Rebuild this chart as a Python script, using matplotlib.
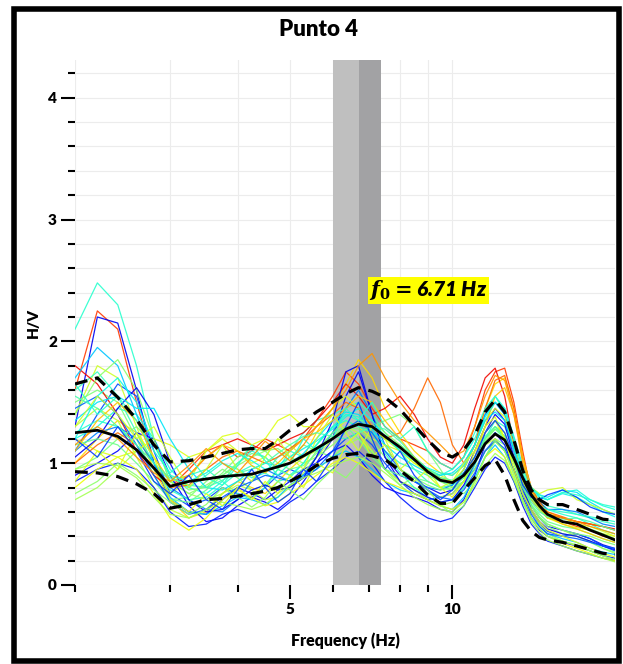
import matplotlib
matplotlib.use("Agg")
import matplotlib.pyplot as plt
import numpy as np
from matplotlib.patches import Rectangle
from matplotlib.ticker import NullFormatter

plt.rcParams['font.family'] = ['Lato', 'DejaVu Sans']
plt.rcParams['font.weight'] = 'heavy'
plt.rcParams['mathtext.fontset'] = 'custom'
plt.rcParams['mathtext.it'] = 'DejaVu Serif:italic:bold'
plt.rcParams['mathtext.rm'] = 'DejaVu Serif:bold'

freqs = [2.0, 2.2, 2.4, 2.6, 2.8, 3.0, 3.25, 3.5, 3.75, 4.0, 4.25, 4.5, 4.75,
         5.0, 5.3, 5.6, 6.0, 6.35, 6.7, 7.1, 7.5, 8.0, 8.5, 9.0, 9.5, 10.0,
         10.5, 11.0, 11.5, 12.0, 12.5, 13.0, 13.5, 14.0, 14.5, 15.0, 16.0,
         17.0, 18.0, 19.0, 20.0]

# average H/V and +/- one std
mean_hv = [1.25, 1.27, 1.22, 1.11, 0.96, 0.81, 0.85, 0.87, 0.89, 0.90, 0.91, 0.94, 0.97,
           1.00, 1.06, 1.12, 1.20, 1.28, 1.32, 1.30, 1.22, 1.13, 1.03, 0.93, 0.86, 0.84,
           0.90, 1.01, 1.16, 1.24, 1.19, 1.04, 0.88, 0.74, 0.65, 0.58, 0.52, 0.50, 0.45,
           0.41, 0.37]
upper_hv = [1.65, 1.70, 1.54, 1.36, 1.15, 1.01, 1.02, 1.05, 1.08, 1.11, 1.12, 1.12, 1.19,
            1.27, 1.34, 1.42, 1.50, 1.57, 1.62, 1.59, 1.54, 1.44, 1.31, 1.19, 1.09, 1.05,
            1.11, 1.23, 1.42, 1.52, 1.42, 1.19, 0.94, 0.78, 0.70, 0.66, 0.66, 0.62, 0.58,
            0.54, 0.53]
lower_hv = [0.93, 0.92, 0.89, 0.83, 0.75, 0.63, 0.66, 0.70, 0.71, 0.73, 0.75, 0.77, 0.80,
            0.85, 0.91, 0.98, 1.04, 1.07, 1.08, 1.06, 1.03, 0.94, 0.85, 0.74, 0.67, 0.67,
            0.78, 0.88, 0.98, 1.03, 0.90, 0.70, 0.53, 0.44, 0.39, 0.37, 0.35, 0.32, 0.29,
            0.26, 0.25]

# individual time windows
windows = [
    [2.10, 2.48, 2.30, 1.80, 1.20, 0.85, 0.80, 0.90, 1.00, 0.95, 0.88, 0.92, 1.05, 1.10, 1.05, 1.15, 1.30, 1.40, 1.35, 1.25, 1.10, 1.00, 0.95, 0.90, 0.85, 0.82, 0.88, 1.00, 1.15, 1.25, 1.20, 1.05, 0.88, 0.75, 0.68, 0.62, 0.58, 0.55, 0.50, 0.45, 0.42],
    [1.60, 2.25, 2.10, 1.50, 1.00, 0.80, 0.95, 1.10, 1.15, 1.05, 1.10, 1.20, 1.15, 1.10, 1.20, 1.35, 1.55, 1.75, 1.65, 1.45, 1.30, 1.20, 1.15, 1.10, 1.00, 0.95, 1.05, 1.30, 1.60, 1.75, 1.78, 1.50, 1.10, 0.75, 0.62, 0.55, 0.52, 0.48, 0.45, 0.40, 0.38],
    [1.30, 2.20, 2.15, 1.60, 1.00, 0.70, 0.60, 0.58, 0.70, 0.80, 0.75, 0.70, 0.78, 0.85, 0.95, 1.00, 1.20, 1.55, 1.75, 1.40, 1.05, 0.90, 0.85, 0.80, 0.75, 0.78, 0.90, 1.10, 1.30, 1.45, 1.35, 1.10, 0.85, 0.65, 0.55, 0.48, 0.45, 0.42, 0.38, 0.33, 0.30],
    [1.10, 1.40, 1.65, 1.55, 1.10, 0.75, 0.65, 0.70, 0.80, 0.75, 0.72, 0.80, 0.90, 0.95, 0.90, 1.00, 1.10, 1.20, 1.25, 1.15, 1.00, 0.85, 0.75, 0.70, 0.72, 0.75, 0.85, 0.95, 1.10, 1.20, 1.10, 0.95, 0.78, 0.60, 0.50, 0.44, 0.40, 0.42, 0.38, 0.32, 0.28],
    [1.40, 1.80, 1.70, 1.30, 0.95, 0.75, 0.85, 1.10, 1.20, 1.10, 1.00, 1.05, 1.20, 1.15, 1.05, 1.10, 1.25, 1.35, 1.30, 1.20, 1.15, 1.10, 1.00, 0.95, 0.90, 0.85, 0.92, 1.05, 1.20, 1.30, 1.25, 1.05, 0.85, 0.70, 0.62, 0.58, 0.55, 0.50, 0.48, 0.44, 0.40],
    [0.70, 0.80, 0.95, 1.10, 1.05, 0.85, 0.75, 0.70, 0.75, 0.85, 0.90, 0.82, 0.78, 0.80, 0.88, 0.95, 1.05, 1.15, 1.20, 1.10, 0.95, 0.85, 0.78, 0.70, 0.65, 0.68, 0.80, 0.95, 1.10, 1.18, 1.10, 0.95, 0.80, 0.65, 0.55, 0.50, 0.45, 0.40, 0.36, 0.30, 0.26],
    [1.20, 1.30, 1.45, 1.40, 1.20, 0.95, 0.80, 0.75, 0.85, 1.00, 1.10, 1.05, 0.95, 0.90, 1.00, 1.15, 1.30, 1.35, 1.30, 1.25, 1.20, 1.15, 1.05, 0.95, 0.90, 0.95, 1.05, 1.20, 1.40, 1.55, 1.45, 1.20, 0.95, 0.80, 0.72, 0.70, 0.76, 0.78, 0.70, 0.65, 0.62],
    [1.00, 1.20, 1.35, 1.25, 0.95, 0.70, 0.55, 0.60, 0.75, 0.85, 0.80, 0.75, 0.85, 0.95, 1.05, 1.25, 1.45, 1.65, 1.85, 1.70, 1.45, 1.25, 1.10, 1.00, 0.92, 0.90, 0.98, 1.15, 1.45, 1.65, 1.70, 1.45, 1.05, 0.80, 0.68, 0.60, 0.55, 0.52, 0.50, 0.48, 0.45],
    [1.50, 1.60, 1.50, 1.20, 0.90, 0.70, 0.72, 0.85, 0.95, 0.88, 0.78, 0.82, 0.95, 1.05, 1.15, 1.10, 1.05, 1.15, 1.25, 1.30, 1.35, 1.40, 1.30, 1.10, 0.95, 0.80, 0.75, 0.85, 1.05, 1.20, 1.15, 1.00, 0.80, 0.65, 0.55, 0.48, 0.42, 0.40, 0.35, 0.30, 0.27],
    [0.90, 1.00, 1.10, 1.25, 1.20, 0.90, 0.65, 0.52, 0.55, 0.65, 0.72, 0.68, 0.62, 0.70, 0.85, 1.00, 1.10, 1.15, 1.05, 0.90, 0.80, 0.75, 0.72, 0.68, 0.62, 0.60, 0.70, 0.90, 1.15, 1.25, 1.15, 0.95, 0.72, 0.55, 0.45, 0.40, 0.35, 0.32, 0.28, 0.24, 0.22],
    [1.60, 1.75, 1.55, 1.25, 1.00, 0.85, 0.90, 0.95, 0.85, 0.75, 0.70, 0.80, 0.95, 1.10, 1.25, 1.35, 1.40, 1.45, 1.50, 1.40, 1.25, 1.10, 0.95, 0.85, 0.80, 0.82, 0.95, 1.15, 1.35, 1.50, 1.40, 1.15, 0.92, 0.78, 0.70, 0.65, 0.62, 0.58, 0.55, 0.52, 0.50],
    [1.80, 1.65, 1.40, 1.10, 0.90, 0.80, 0.90, 1.05, 1.15, 1.20, 1.15, 1.10, 1.15, 1.20, 1.25, 1.35, 1.50, 1.65, 1.55, 1.40, 1.45, 1.55, 1.40, 1.20, 1.05, 1.00, 1.15, 1.45, 1.70, 1.78, 1.55, 1.15, 0.85, 0.70, 0.62, 0.58, 0.55, 0.52, 0.50, 0.48, 0.46],
    [1.30, 1.45, 1.35, 1.05, 0.80, 0.62, 0.55, 0.62, 0.75, 0.82, 0.78, 0.70, 0.72, 0.80, 0.92, 1.05, 1.20, 1.30, 1.25, 1.10, 0.95, 0.85, 0.80, 0.75, 0.72, 0.75, 0.85, 1.00, 1.15, 1.20, 1.10, 0.92, 0.75, 0.60, 0.50, 0.42, 0.36, 0.32, 0.28, 0.24, 0.20],
    [1.10, 1.25, 1.30, 1.20, 1.00, 0.80, 0.70, 0.62, 0.60, 0.70, 0.85, 0.95, 0.90, 0.85, 0.90, 1.05, 1.25, 1.45, 1.60, 1.40, 1.15, 0.95, 0.85, 0.80, 0.78, 0.82, 0.95, 1.15, 1.40, 1.50, 1.40, 1.15, 0.90, 0.75, 0.68, 0.62, 0.62, 0.60, 0.55, 0.50, 0.48],
    [0.95, 1.05, 1.20, 1.30, 1.15, 0.90, 0.78, 0.80, 0.92, 1.05, 1.12, 1.10, 1.00, 0.95, 0.98, 1.08, 1.22, 1.30, 1.28, 1.18, 1.05, 0.95, 0.88, 0.82, 0.78, 0.80, 0.88, 1.00, 1.20, 1.30, 1.22, 1.00, 0.80, 0.65, 0.56, 0.50, 0.45, 0.42, 0.40, 0.36, 0.33],
    [1.70, 1.95, 1.80, 1.40, 1.00, 0.72, 0.60, 0.58, 0.65, 0.72, 0.70, 0.66, 0.72, 0.82, 0.90, 0.95, 1.05, 1.10, 1.05, 0.95, 0.85, 0.78, 0.75, 0.70, 0.65, 0.62, 0.72, 0.88, 1.05, 1.15, 1.05, 0.85, 0.68, 0.55, 0.48, 0.42, 0.38, 0.35, 0.30, 0.27, 0.25],
    [1.20, 1.10, 1.05, 1.10, 1.20, 1.15, 1.05, 1.10, 1.22, 1.25, 1.15, 1.20, 1.35, 1.40, 1.30, 1.30, 1.45, 1.55, 1.45, 1.30, 1.20, 1.10, 1.00, 0.92, 0.88, 0.85, 0.95, 1.15, 1.35, 1.45, 1.38, 1.15, 0.90, 0.72, 0.62, 0.55, 0.50, 0.47, 0.45, 0.42, 0.40],
    [0.85, 0.95, 1.00, 0.95, 0.80, 0.60, 0.48, 0.50, 0.58, 0.62, 0.58, 0.55, 0.60, 0.68, 0.75, 0.85, 0.95, 1.05, 1.10, 1.00, 0.85, 0.72, 0.62, 0.55, 0.52, 0.55, 0.65, 0.80, 0.95, 1.05, 1.00, 0.85, 0.65, 0.50, 0.42, 0.36, 0.32, 0.28, 0.25, 0.22, 0.20],
    [1.40, 1.70, 1.85, 1.60, 1.20, 0.85, 0.75, 0.82, 0.90, 0.98, 1.05, 1.10, 1.12, 1.05, 1.00, 1.05, 1.15, 1.25, 1.35, 1.35, 1.25, 1.15, 1.05, 0.95, 0.85, 0.80, 0.85, 1.00, 1.18, 1.28, 1.22, 1.05, 0.85, 0.70, 0.62, 0.56, 0.52, 0.50, 0.46, 0.42, 0.38],
    [1.00, 1.15, 1.25, 1.15, 0.95, 0.80, 0.82, 0.95, 1.05, 1.10, 1.05, 1.00, 1.05, 1.12, 1.20, 1.30, 1.40, 1.50, 1.45, 1.30, 1.20, 1.25, 1.45, 1.70, 1.50, 1.15, 1.00, 1.15, 1.45, 1.68, 1.72, 1.45, 1.05, 0.80, 0.68, 0.60, 0.56, 0.52, 0.50, 0.48, 0.45],
    [1.25, 1.35, 1.30, 1.15, 0.95, 0.78, 0.70, 0.72, 0.82, 0.92, 0.98, 0.92, 0.85, 0.88, 1.00, 1.15, 1.30, 1.40, 1.38, 1.25, 1.08, 0.92, 0.80, 0.72, 0.68, 0.70, 0.80, 0.98, 1.20, 1.35, 1.30, 1.10, 0.88, 0.72, 0.65, 0.62, 0.60, 0.58, 0.56, 0.54, 0.52],
    [1.05, 1.20, 1.45, 1.62, 1.40, 1.00, 0.70, 0.60, 0.62, 0.70, 0.78, 0.82, 0.78, 0.80, 0.88, 1.05, 1.35, 1.75, 1.80, 1.40, 1.05, 0.85, 0.78, 0.72, 0.68, 0.70, 0.82, 1.00, 1.25, 1.40, 1.32, 1.05, 0.80, 0.62, 0.52, 0.46, 0.42, 0.40, 0.36, 0.32, 0.29],
    [0.80, 0.95, 1.05, 0.95, 0.75, 0.55, 0.45, 0.55, 0.70, 0.78, 0.72, 0.65, 0.68, 0.75, 0.82, 0.90, 1.00, 1.05, 1.00, 0.92, 0.85, 0.80, 0.75, 0.70, 0.65, 0.62, 0.68, 0.85, 1.05, 1.12, 1.05, 0.88, 0.70, 0.55, 0.46, 0.40, 0.34, 0.30, 0.26, 0.22, 0.20],
    [1.35, 1.50, 1.55, 1.45, 1.45, 1.20, 0.95, 0.80, 0.78, 0.85, 0.95, 1.00, 0.98, 1.00, 1.08, 1.20, 1.35, 1.42, 1.40, 1.28, 1.15, 1.05, 0.98, 0.92, 0.90, 0.92, 1.00, 1.15, 1.35, 1.42, 1.35, 1.12, 0.90, 0.78, 0.74, 0.72, 0.78, 0.76, 0.68, 0.62, 0.58],
    [1.15, 1.20, 1.15, 1.00, 0.85, 0.70, 0.68, 0.78, 0.90, 1.00, 1.08, 1.05, 0.95, 0.90, 0.95, 1.10, 1.25, 1.30, 1.20, 1.05, 0.95, 0.90, 0.88, 0.85, 0.80, 0.78, 0.85, 1.00, 1.20, 1.28, 1.20, 1.00, 0.80, 0.66, 0.58, 0.52, 0.48, 0.46, 0.42, 0.38, 0.35],
    [1.45, 1.55, 1.40, 1.15, 0.90, 0.68, 0.58, 0.62, 0.72, 0.80, 0.85, 0.90, 0.88, 0.85, 0.88, 0.95, 1.10, 1.28, 1.35, 1.25, 1.10, 0.95, 0.85, 0.78, 0.72, 0.70, 0.78, 0.92, 1.10, 1.18, 1.12, 0.95, 0.75, 0.58, 0.48, 0.42, 0.40, 0.38, 0.35, 0.32, 0.30],
    [1.10, 1.35, 1.50, 1.35, 1.05, 0.85, 0.90, 1.05, 1.15, 1.10, 0.98, 0.92, 1.00, 1.10, 1.20, 1.25, 1.35, 1.45, 1.55, 1.50, 1.35, 1.20, 1.05, 0.95, 0.88, 0.85, 0.90, 1.05, 1.30, 1.55, 1.62, 1.40, 1.05, 0.78, 0.64, 0.56, 0.50, 0.46, 0.42, 0.38, 0.35],
    [1.55, 1.45, 1.30, 1.15, 1.00, 0.88, 0.82, 0.80, 0.86, 0.92, 0.95, 1.00, 1.08, 1.15, 1.22, 1.25, 1.22, 1.20, 1.25, 1.30, 1.28, 1.18, 1.05, 0.95, 0.88, 0.86, 0.92, 1.05, 1.22, 1.30, 1.22, 1.02, 0.82, 0.68, 0.60, 0.56, 0.54, 0.55, 0.52, 0.48, 0.45],
    [0.95, 1.00, 0.98, 0.88, 0.72, 0.58, 0.55, 0.62, 0.68, 0.65, 0.62, 0.66, 0.75, 0.82, 0.88, 0.92, 0.98, 1.02, 1.05, 1.00, 0.92, 0.82, 0.72, 0.66, 0.62, 0.60, 0.68, 0.82, 0.98, 1.08, 1.02, 0.86, 0.68, 0.52, 0.43, 0.37, 0.32, 0.28, 0.25, 0.22, 0.19],
    [1.20, 1.55, 1.70, 1.50, 1.15, 0.90, 0.85, 0.92, 1.02, 1.08, 1.02, 0.95, 0.98, 1.05, 1.12, 1.18, 1.28, 1.38, 1.45, 1.35, 1.22, 1.10, 1.02, 0.96, 0.92, 0.90, 0.98, 1.15, 1.38, 1.50, 1.45, 1.22, 0.98, 0.80, 0.72, 0.70, 0.75, 0.72, 0.66, 0.60, 0.56],
    [1.30, 1.55, 1.40, 1.20, 1.30, 1.05, 0.80, 0.95, 1.15, 0.95, 0.85, 1.05, 1.20, 1.05, 0.95, 1.20, 1.40, 1.25, 1.10, 1.30, 1.20, 0.95, 1.05, 0.90, 0.80, 0.85, 1.00, 1.10, 1.25, 1.35, 1.20, 1.00, 0.85, 0.80, 0.75, 0.78, 0.80, 0.70, 0.66, 0.62, 0.58],
    [0.85, 1.10, 0.95, 1.25, 1.05, 0.70, 0.60, 0.75, 0.65, 0.80, 0.70, 0.85, 0.75, 0.90, 0.80, 1.00, 0.92, 1.15, 1.25, 1.05, 1.15, 0.95, 0.85, 0.95, 0.80, 0.72, 0.85, 1.10, 1.30, 1.38, 1.20, 0.95, 0.75, 0.62, 0.52, 0.45, 0.40, 0.35, 0.30, 0.26, 0.23],
    [1.20, 1.05, 1.30, 1.10, 0.85, 0.75, 0.90, 0.70, 0.62, 0.78, 0.95, 0.80, 0.68, 0.75, 0.95, 0.85, 1.05, 1.30, 1.50, 1.20, 0.95, 1.10, 0.90, 0.78, 0.70, 0.78, 0.92, 1.05, 1.25, 1.35, 1.25, 1.05, 0.82, 0.72, 0.70, 0.74, 0.78, 0.72, 0.64, 0.60, 0.58],
    [1.65, 1.40, 1.55, 1.35, 1.10, 0.92, 1.05, 0.88, 0.82, 0.98, 1.15, 1.02, 0.90, 1.00, 1.20, 1.10, 1.20, 1.45, 1.35, 1.50, 1.30, 1.20, 1.30, 1.10, 1.00, 0.95, 1.05, 1.25, 1.45, 1.55, 1.42, 1.20, 0.95, 0.80, 0.74, 0.70, 0.76, 0.74, 0.70, 0.66, 0.64],
    [0.75, 0.85, 1.00, 0.90, 0.78, 0.68, 0.58, 0.66, 0.80, 0.72, 0.64, 0.72, 0.85, 0.78, 0.70, 0.82, 0.95, 0.88, 1.00, 1.10, 0.95, 0.82, 0.88, 0.78, 0.66, 0.58, 0.65, 0.85, 1.05, 1.18, 1.10, 0.90, 0.70, 0.54, 0.46, 0.40, 0.36, 0.33, 0.28, 0.24, 0.21],
    [1.15, 1.30, 1.20, 1.05, 0.92, 0.85, 0.98, 1.12, 1.00, 0.92, 1.05, 1.18, 1.10, 1.02, 1.15, 1.30, 1.45, 1.60, 1.80, 1.90, 1.70, 1.50, 1.35, 1.25, 1.15, 1.05, 1.10, 1.30, 1.55, 1.72, 1.68, 1.40, 1.00, 0.78, 0.66, 0.58, 0.55, 0.52, 0.48, 0.45, 0.42],
]

f0 = 6.71
f0_low = 6.0
f0_high = 7.36

# colour of each window along the jet map
win_pos = [0.40, 0.85, 0.10, 0.20, 0.60, 0.55, 0.38, 0.68, 0.50, 0.12,
           0.42, 0.90, 0.58, 0.25, 0.50, 0.32, 0.62, 0.15, 0.52, 0.80,
           0.40, 0.10, 0.64, 0.35, 0.48, 0.22, 0.70, 0.44, 0.55, 0.37,
           0.60, 0.62, 0.18, 0.40, 0.52, 0.75]

fig = plt.figure(figsize=(6.23, 6.64), dpi=100)
ax = fig.add_axes([0.1204, 0.119, 0.8666, 0.7907])

ax.axvspan(f0_low, f0, color='#bfbfbf', lw=0, zorder=1)
ax.axvspan(f0, f0_high, color='#a2a2a4', lw=0, zorder=1)

cmap = plt.get_cmap('jet')
for w, p in zip(windows, win_pos):
    ax.plot(freqs, w, color=cmap(p), lw=0.9, alpha=0.9, zorder=2)

ax.plot(freqs, mean_hv, color='black', lw=2.0, zorder=3)
ax.plot(freqs, upper_hv, color='black', lw=2.3, ls=(0, (4, 2.5)), zorder=3)
ax.plot(freqs, lower_hv, color='black', lw=2.3, ls=(0, (4, 2.5)), zorder=3)

ax.text(7.02, 2.42, r'$f_0 =$6.71 Hz', fontsize=15, fontweight='heavy', style='italic',
        va='center', ha='left', zorder=5,
        bbox=dict(facecolor='yellow', edgecolor='none', pad=1.0))

ax.set_xscale('log')
ax.set_xlim(2, 20)
ax.set_ylim(0, 4.31)
ax.set_xticks([5, 10], ['5', '10'])
ax.set_xticks([2, 3, 4, 6, 7, 8, 9], minor=True)
ax.xaxis.set_minor_formatter(NullFormatter())
ax.set_yticks([0, 1, 2, 3, 4])
ax.set_yticks(np.arange(0, 4.3, 0.2), minor=True)

ax.tick_params(which='major', length=10, width=1.5, labelsize=11, pad=3)
ax.tick_params(which='minor', length=5, width=1.5)
for lab in ax.get_xticklabels() + ax.get_yticklabels():
    lab.set_fontweight('heavy')
ax.grid(which='both', color='#ececec', lw=0.8, zorder=0)
ax.set_axisbelow(True)
for s in ax.spines.values():
    s.set_visible(False)

ax.set_xlabel('Frequency (Hz)', fontsize=11.5, fontweight='heavy', labelpad=12)
ax.set_ylabel('H/V', fontsize=11, fontweight='heavy', labelpad=6)
fig.text(0.512, 0.955, 'Punto 4', ha='center', va='center', fontsize=16, fontweight='heavy')

fig.patches.append(Rectangle((0.0217, 0.0045), 0.9723, 0.9812, transform=fig.transFigure,
                             fill=False, lw=4, ec='black'))

fig.savefig('out.png', dpi=100)
